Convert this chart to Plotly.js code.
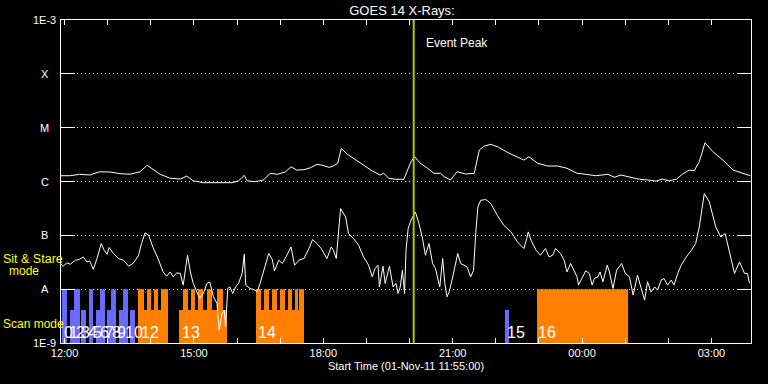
<!DOCTYPE html>
<html>
<head>
<meta charset="utf-8">
<script src="https://cdn.plot.ly/plotly-3.0.1.min.js"></script>
<style>
  html, body { margin: 0; padding: 0; background: #000; }
  #chart { width: 768px; height: 384px; }
</style>
</head>
<body>
<div id="chart"></div>
<script>
// ---------- DATA (times in minutes after 01-Nov-2011 11:55:00 UT) ----------
const startTime = '2011-11-01 11:55:00';
const endMinutes = 960;

// GOES 14 long channel (1-8 A), W/m^2
const longMin = [0,13,26,40,54,68,82,96,110,120,128,138,152,166,175,184,198,212,226,238,247,255,259,270,282,291,301,312,320,328,338,347,356,363,373,379,385,390,398,410,421,433,444,449,456,465,477,482,487,492,500,510,519,528,533,542,551,563,575,582,589,598,609,621,635,644,651,663,677,691,704,718,730,744,761,770,779,791,805,816,828,837,846,856,865,874,881,888,896,907,921,935,946,959];
const longFlux = [1.28e-6,1.28e-6,1.36e-6,1.32e-6,1.52e-6,1.50e-6,1.40e-6,1.36e-6,1.52e-6,2.00e-6,1.68e-6,1.36e-6,1.15e-6,1.11e-6,1.26e-6,1.03e-6,0.95e-6,0.95e-6,0.95e-6,0.95e-6,1.03e-6,1.30e-6,1.03e-6,0.99e-6,1.07e-6,1.42e-6,1.36e-6,1.50e-6,1.88e-6,1.63e-6,1.66e-6,1.80e-6,2.08e-6,2.02e-6,1.83e-6,1.94e-6,2.18e-6,4.13e-6,3.24e-6,2.50e-6,2.02e-6,1.57e-6,1.32e-6,1.42e-6,1.15e-6,1.10e-6,1.10e-6,1.63e-6,2.33e-6,2.88e-6,2.18e-6,1.76e-6,1.42e-6,1.42e-6,1.23e-6,1.07e-6,1.52e-6,1.38e-6,1.42e-6,3.84e-6,4.56e-6,4.90e-6,4.31e-6,3.48e-6,2.88e-6,2.50e-6,2.88e-6,2.18e-6,1.94e-6,1.94e-6,1.76e-6,1.42e-6,1.36e-6,1.28e-6,1.36e-6,1.20e-6,1.32e-6,1.21e-6,1.10e-6,1.07e-6,1.02e-6,1.11e-6,1.03e-6,1.10e-6,1.38e-6,1.63e-6,1.59e-6,2.33e-6,5.25e-6,3.57e-6,2.50e-6,1.63e-6,1.46e-6,1.28e-6];

// GOES 14 short channel (0.5-4 A), W/m^2
const shortMin = [0,3,8,13,20,26,31,36,40,45,50,56,60,64,67,73,80,87,94,101,108,112,117,122,128,135,142,147,152,156,161,166,170,173,176,180,184,189,193,198,203,207,212,217,220,224,227,229,232,235,239,243,247,252,255,257,263,268,273,277,282,289,294,297,303,308,313,320,325,331,338,345,350,356,362,370,376,379,383,385,389,396,400,407,414,421,428,433,437,441,443,448,451,457,462,466,469,472,475,478,480,483,487,493,498,503,507,512,517,521,524,527,531,534,537,540,544,549,552,556,561,565,570,574,577,580,584,591,598,607,616,626,635,644,648,650,654,661,667,674,679,684,688,695,700,704,709,714,718,720,726,730,735,739,742,747,750,754,760,763,768,773,780,785,791,796,802,807,812,816,821,826,830,835,839,844,849,853,858,863,870,877,883,888,895,902,911,918,924,930,937,944,951,955,958];
const shortFlux = [2.91e-8,2.67e-8,3.07e-8,2.91e-8,3.45e-8,3.60e-8,3.97e-8,3.21e-8,3.35e-8,2.32e-8,3.71e-8,7.05e-8,5.29e-8,4.46e-8,5.94e-8,4.60e-8,3.71e-8,3.45e-8,2.67e-8,3.07e-8,4.27e-8,7.05e-8,1.11e-7,1.00e-7,5.94e-8,3.71e-8,2.09e-8,1.74e-8,2.09e-8,1.69e-8,2.01e-8,1.96e-8,1.19e-8,2.25e-8,4.27e-8,2.09e-8,1.28e-8,8.91e-9,6.72e-9,8.32e-9,1.28e-8,1.37e-8,7.20e-9,5.43e-9,1.73e-9,3.54e-9,4.08e-9,2.00e-9,1.03e-8,1.10e-8,8.32e-9,1.10e-8,1.28e-8,1.96e-8,4.46e-8,1.19e-8,1.03e-8,9.87e-9,8.91e-9,1.28e-8,2.25e-8,4.60e-8,3.56e-8,2.19e-8,3.45e-8,3.00e-8,3.97e-8,6.09e-8,2.79e-8,3.45e-8,3.71e-8,5.69e-8,8.36e-8,7.05e-8,5.69e-8,3.71e-8,6.09e-8,5.29e-8,3.71e-8,8.11e-8,3.14e-7,2.19e-7,1.08e-7,8.72e-8,6.55e-8,3.97e-8,2.79e-8,1.69e-8,2.42e-8,2.79e-8,1.10e-8,2.67e-8,1.28e-8,2.67e-8,1.10e-8,1.28e-8,8.32e-9,1.10e-8,2.25e-8,8.32e-9,5.29e-8,1.34e-7,1.91e-7,2.72e-7,1.66e-7,8.72e-8,4.27e-8,7.05e-8,3.00e-8,2.42e-8,1.69e-8,1.10e-8,3.71e-8,1.28e-8,7.20e-9,8.91e-9,1.47e-8,3.00e-8,4.60e-8,3.00e-8,2.79e-8,2.59e-8,1.69e-8,2.25e-8,1.08e-7,3.36e-7,4.48e-7,4.62e-7,3.89e-7,2.36e-7,1.54e-7,1.16e-7,7.54e-8,5.69e-8,8.72e-8,1.16e-7,8.11e-8,5.29e-8,4.27e-8,5.69e-8,3.97e-8,4.27e-8,5.69e-8,4.60e-8,3.45e-8,2.09e-8,3.00e-8,2.09e-8,1.69e-8,1.19e-8,1.69e-8,2.19e-8,1.96e-8,1.19e-8,1.58e-8,1.69e-8,2.09e-8,1.37e-8,2.79e-8,2.09e-8,1.03e-8,2.25e-8,3.00e-8,1.96e-8,1.69e-8,7.74e-9,1.82e-8,1.10e-8,6.25e-9,1.37e-8,8.91e-9,1.10e-8,9.58e-9,1.47e-8,1.58e-8,1.19e-8,1.47e-8,1.19e-8,1.96e-8,2.79e-8,3.97e-8,5.29e-8,7.05e-8,1.43e-7,5.96e-7,4.17e-7,1.43e-7,9.34e-8,1.08e-7,4.92e-8,1.96e-8,3.21e-8,1.96e-8,1.96e-8,1.28e-8];

// Observing-mode segments (minutes); kind: 'stare' = blue, 'scan' = orange; level: full / half
const segStart = [12.5,27.8,48.7,64.0,80.7,96.0, 1.4,18.1,39.0,54.3,69.6,86.3,
                  107.1,107.1,119.7,129.4,139.1,
                  164.2,169.7,180.9,190.6,203.1,217.0,
                  271.3,271.3,282.4,293.6,304.6,315.8,325.6,331.1,
                  617.7, 662.3];
const segEnd   = [18.1,34.8,54.3,69.6,86.3,103.0, 8.3,26.4,44.5,61.2,76.5,93.2,
                  148.9,115.5,125.2,135.0,148.9,
                  231.0,176.7,186.4,197.6,210.1,225.4,
                  338.1,278.3,289.4,300.5,311.6,321.4,329.7,338.1,
                  623.3, 789.0];
const segLevel = ['half','half','half','half','half','half','full','full','full','full','full','full',
                  'half','full','full','full','full',
                  'half','full','full','full','full','full',
                  'half','full','full','full','full','full','full','full',
                  'half','full'];
const segKind  = ['stare','stare','stare','stare','stare','stare','stare','stare','stare','stare','stare','stare',
                  'scan','scan','scan','scan','scan',
                  'scan','scan','scan','scan','scan','scan',
                  'scan','scan','scan','scan','scan','scan','scan','scan',
                  'stare','scan'];
const barFloor = 1e-9, fullTop = 1e-8, halfTop = 4.1e-9;

// Scan numbers and where their labels start (minutes)
const scanLabels = ['0','1','2','3','4','5','6','7','8','9','10','12','13','14','15','16'];
const scanLabelMin = [2.1,10.4,18.8,27.1,35.5,43.8,52.2,60.5,68.9,77.2,88.0,110.0,167.0,272.7,619.1,662.3];

// Event peak
const eventPeakMin = 490.7;
const eventPeakText = 'Event Peak';

// Axis ticks / labels
const yTickVals = [1e-9,1e-8,1e-7,1e-6,1e-5,1e-4,1e-3];
const yTickText = ['1E-9','A','B','C','M','X','1E-3'];
const xTickMin = [5,65,125,185,245,305,365,425,485,545,605,665,725,785,845,905];
const xTickText = ['12:00','','','15:00','','','18:00','','','21:00','','','00:00','','','03:00'];

const titleText = 'GOES 14 X-Rays:';
const xTitleText = 'Start Time (01-Nov-11 11:55:00)';
const modeLabels = ['Sit & Stare', 'mode', 'Scan mode'];

// ---------- HELPERS ----------
const T0 = Date.parse(startTime.replace(' ', 'T') + 'Z');
function toDate(m) {
  return new Date(T0 + m * 60000).toISOString().slice(0, 19).replace('T', ' ');
}

const kindColor = { stare: '#6a6aff', scan: '#ff8000' };
const FONT = '"Liberation Sans", Arial, sans-serif';

// ---------- TRACES ----------
const barTrace = {
  type: 'bar',
  x: segStart.map((s, i) => toDate((s + segEnd[i]) / 2)),
  width: segStart.map((s, i) => (segEnd[i] - s) * 60000),
  base: segStart.map(() => barFloor),
  y: segLevel.map(l => (l === 'full' ? fullTop : halfTop) - barFloor),
  marker: { color: segKind.map(k => kindColor[k]), line: { width: 0 } },
  hoverinfo: 'skip'
};

const longTrace = {
  type: 'scatter', mode: 'lines',
  x: longMin.map(toDate), y: longFlux,
  line: { color: '#ffffff', width: 1 }, hoverinfo: 'skip'
};
const shortTrace = {
  type: 'scatter', mode: 'lines',
  x: shortMin.map(toDate), y: shortFlux,
  line: { color: '#ffffff', width: 1 }, hoverinfo: 'skip'
};

// ---------- ANNOTATIONS ----------
const annotations = [];
yTickVals.forEach((v, i) => {
  annotations.push({
    xref: 'paper', yref: 'y', x: 0, y: Math.log10(v), xshift: -16.5,
    xanchor: 'center', yanchor: 'middle', showarrow: false,
    text: yTickText[i], font: { family: FONT, size: 11, color: '#ffffff' }
  });
});
scanLabels.forEach((t, i) => {
  annotations.push({
    xref: 'x', yref: 'paper', x: toDate(scanLabelMin[i]), y: 0.0325,
    xanchor: 'left', yanchor: 'middle', showarrow: false, borderpad: 0,
    text: t, font: { family: FONT, size: 16, color: '#ffffff' }
  });
});
annotations.push({
  xref: 'x', yref: 'paper', x: toDate(eventPeakMin), y: 0.93, xshift: 10,
  xanchor: 'left', yanchor: 'middle', showarrow: false,
  text: eventPeakText, font: { family: FONT, size: 12, color: '#ffffff' }
});
annotations.push({
  xref: 'paper', yref: 'paper', x: 0, y: 0.26, xshift: -60,
  xanchor: 'left', yanchor: 'middle', showarrow: false,
  text: modeLabels[0], font: { family: FONT, size: 12.5, color: '#ffff00' }
});
annotations.push({
  xref: 'paper', yref: 'paper', x: 0, y: 0.223, xshift: -36.7,
  xanchor: 'center', yanchor: 'middle', showarrow: false,
  text: modeLabels[1], font: { family: FONT, size: 12, color: '#ffff00' }
});
annotations.push({
  xref: 'paper', yref: 'paper', x: 0, y: 0.0588, xshift: -60,
  xanchor: 'left', yanchor: 'middle', showarrow: false,
  text: modeLabels[2], font: { family: FONT, size: 12, color: '#ffff00' }
});

// ---------- LAYOUT ----------
const layout = {
  width: 768, height: 384,
  margin: { l: 61, r: 17, t: 20, b: 41, pad: 0 },
  paper_bgcolor: '#000000', plot_bgcolor: '#000000',
  showlegend: false, barmode: 'overlay', hovermode: false,
  font: { family: FONT, color: '#ffffff', size: 11 },
  title: {
    text: titleText, font: { family: FONT, size: 13, color: '#ffffff' },
    xref: 'container', yref: 'container', x: 402 / 768, y: 1 - 10 / 384,
    xanchor: 'center', yanchor: 'middle'
  },
  xaxis: {
    type: 'date',
    range: [toDate(0), toDate(endMinutes)],
    tickmode: 'array', tickvals: xTickMin.map(toDate), ticktext: xTickText,
    ticks: 'inside', ticklen: 5, tickwidth: 1, tickcolor: '#ffffff',
    showline: true, linecolor: '#ffffff', linewidth: 1, mirror: 'ticks',
    showgrid: false, zeroline: false,
    tickfont: { family: FONT, size: 11, color: '#ffffff' },
    title: { text: xTitleText, font: { family: FONT, size: 11, color: '#ffffff' }, standoff: 4 },
    fixedrange: true
  },
  yaxis: {
    type: 'log', range: [-9, -3],
    tickmode: 'array', tickvals: yTickVals, showticklabels: false,
    ticks: 'inside', ticklen: 14, tickwidth: 1, tickcolor: '#ffffff',
    showline: true, linecolor: '#ffffff', linewidth: 1, mirror: 'ticks',
    showgrid: true, gridcolor: '#ffffff', gridwidth: 1, griddash: '1px,3px',
    zeroline: false, fixedrange: true
  },
  shapes: [{
    type: 'line', xref: 'x', yref: 'paper',
    x0: toDate(eventPeakMin), x1: toDate(eventPeakMin), y0: 0, y1: 1,
    line: { color: '#a4cc00', width: 2 }
  }],
  annotations: annotations
};

Plotly.newPlot('chart', [barTrace, longTrace, shortTrace], layout, { staticPlot: true, displayModeBar: false });
</script>
</body>
</html>
